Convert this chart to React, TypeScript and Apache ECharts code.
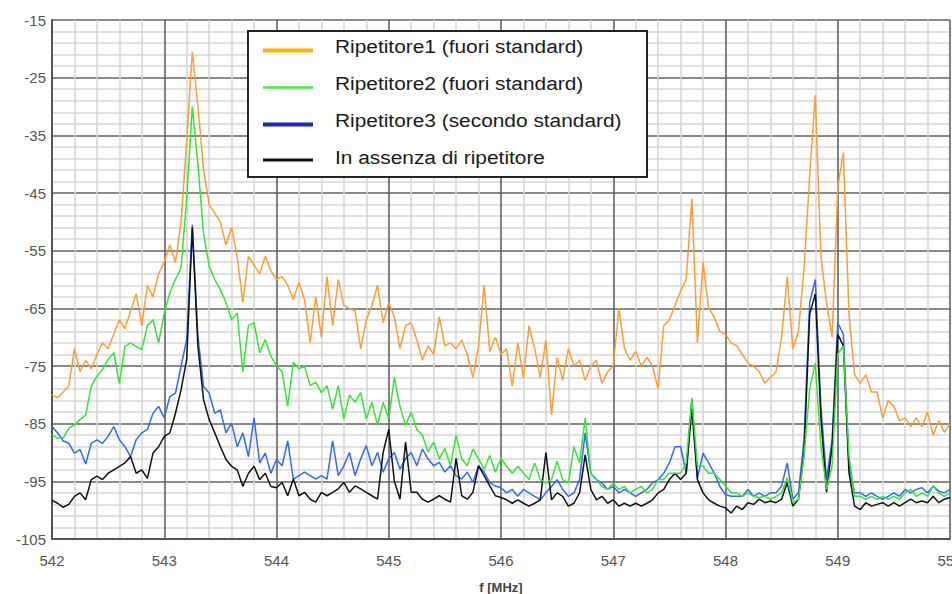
import React, { useEffect, useRef } from "react";
import * as echarts from "echarts";

// Frequency sweep (MHz)
const freq = [
  542, 542.05, 542.1, 542.15, 542.2, 542.25, 542.3, 542.35, 542.4, 542.45,
  542.5, 542.55, 542.6, 542.65, 542.7, 542.75, 542.8, 542.85, 542.9, 542.95,
  543, 543.05, 543.1, 543.15, 543.2, 543.25, 543.3, 543.35, 543.4, 543.45,
  543.5, 543.55, 543.6, 543.65, 543.7, 543.75, 543.8, 543.85, 543.9, 543.95,
  544, 544.05, 544.1, 544.15, 544.2, 544.25, 544.3, 544.35, 544.4, 544.45,
  544.5, 544.55, 544.6, 544.65, 544.7, 544.75, 544.8, 544.85, 544.9, 544.95,
  545, 545.05, 545.1, 545.15, 545.2, 545.25, 545.3, 545.35, 545.4, 545.45,
  545.5, 545.55, 545.6, 545.65, 545.7, 545.75, 545.8, 545.85, 545.9, 545.95,
  546, 546.05, 546.1, 546.15, 546.2, 546.25, 546.3, 546.35, 546.4, 546.45,
  546.5, 546.55, 546.6, 546.65, 546.7, 546.75, 546.8, 546.85, 546.9, 546.95,
  547, 547.05, 547.1, 547.15, 547.2, 547.25, 547.3, 547.35, 547.4, 547.45,
  547.5, 547.55, 547.6, 547.65, 547.7, 547.75, 547.8, 547.85, 547.9, 547.95,
  548, 548.05, 548.1, 548.15, 548.2, 548.25, 548.3, 548.35, 548.4, 548.45,
  548.5, 548.55, 548.6, 548.65, 548.7, 548.75, 548.8, 548.85, 548.9, 548.95,
  549, 549.05, 549.1, 549.15, 549.2, 549.25, 549.3, 549.35, 549.4, 549.45,
  549.5, 549.55, 549.6, 549.65, 549.7, 549.75, 549.8, 549.85, 549.9, 549.95,
  550,
];

// Ripetitore1 (fuori standard)
const rip1 = [
  -80, -80.5, -79.5, -78.5, -72, -76, -74, -75.5, -73, -71,
  -72, -69.5, -67, -68.5, -65.5, -62.5, -68, -61, -63, -59,
  -57, -54, -57, -50, -36, -20.5, -30, -41, -47, -48.5,
  -50, -54, -51, -56, -64, -56, -57.5, -59, -56, -58.5,
  -60, -59.5, -61, -63.5, -60.5, -63.5, -71, -63, -70, -59.5,
  -68, -60, -64.5, -65, -65.5, -72, -67, -64.5, -61, -67.5,
  -64, -66.5, -72, -68, -67.5, -70.5, -74, -71.5, -73, -66.5,
  -71.5, -71, -72, -70.5, -73, -77, -71.5, -61, -72.5, -70,
  -73, -72, -78.5, -71, -77, -68, -72, -77, -70.5, -83.5,
  -73.5, -77.5, -72, -75, -74, -77.5, -75, -74, -78, -76,
  -75, -65, -72, -74, -72.5, -75, -73.5, -75, -79, -68,
  -67, -64.5, -62, -60, -46, -71, -57, -65, -66.5, -69,
  -69.5, -71, -71.5, -73, -74.5, -75, -76, -78, -77, -76,
  -70, -59.5, -72, -69, -58, -42, -28, -56, -64, -70,
  -44, -38, -66, -76.5, -78, -76.5, -79.5, -79.5, -84, -81,
  -82, -84.5, -84, -85.5, -84, -85.5, -83, -87, -84.5, -86.5,
  -85,
];

// Ripetitore2 (fuori standard)
const rip2 = [
  -87, -87.5, -87.5, -85.8, -85.2, -84.3, -83.5, -78.5, -76.8, -75.6,
  -73.9, -72.7, -78, -71.6, -71, -71.6, -72.2, -68, -67, -71,
  -65.8, -62.3, -60, -58, -46, -30, -40, -52, -57.7, -60,
  -61.8, -64, -67, -65.8, -76, -68, -67.5, -72.7, -70.4, -73.3,
  -75, -76, -82, -74.4, -75.5, -75, -78.4, -77.8, -79.6, -78.4,
  -82.5, -78.4, -84.2, -80, -81.3, -79.6, -84.2, -81.3, -85.3, -81.3,
  -84.2, -77, -82, -85.3, -83, -86, -87, -89.9, -88.2, -91.1,
  -89.3, -92.3, -87, -91.1, -92.3, -89.4, -91.1, -92.9, -90.5, -93.4,
  -91, -92.4, -93.6, -92.4, -93.6, -94.7, -91.8, -94.7, -95.3, -94.7,
  -91.5, -94.7, -95.3, -89, -91.8, -84, -93.6, -94.7, -95.9, -96.4,
  -95.3, -96.4, -95.9, -97, -96.4, -95.9, -97, -96.4, -94.7, -94.7,
  -93.6, -93.6, -93.6, -91.8, -80.5, -92.4, -92.4, -93.6, -93.6, -94.7,
  -95.8, -97, -97, -97.6, -97, -97.6, -97.8, -97.6, -98.1, -97.6,
  -97, -94.4, -98.7, -98.1, -90.6, -79, -74.5, -89, -96.4, -92.3,
  -73, -71.5, -90.6, -97.6, -97.6, -98.1, -97.6, -98.1, -97.6, -98.1,
  -97.6, -98.1, -97, -96.4, -97.6, -97, -97.6, -95.8, -97, -97.6,
  -97,
];

// Ripetitore3 (secondo standard)
const rip3 = [
  -85.5, -86.6, -88, -88.4, -90.1, -89.5, -92, -88.4, -87.8, -88.4,
  -87.2, -85.5, -87.8, -89, -90.7, -87.8, -86.6, -86, -83.2, -82,
  -84, -80.3, -79.7, -75, -70.4, -50.5, -69.9, -78.5, -79.7, -83.2,
  -82.6, -86.6, -84.9, -89, -86.6, -90.7, -84, -91.8, -90.1, -93.6,
  -91.2, -92.3, -88, -94.6, -94, -93.4, -94, -94.6, -94, -94.6,
  -88, -94, -92.3, -90, -94, -91.1, -88.8, -92.3, -90, -93.4,
  -91.1, -90, -92.9, -91.1, -90, -92.3, -89.4, -91.1, -92.3, -91.7,
  -93.4, -92.3, -94, -94.6, -93.4, -95.2, -92.3, -93.4, -95.2, -95.8,
  -96.1, -97, -96.4, -97.6, -96.4, -97, -97.6, -98.2, -97, -95.9,
  -94.7, -96.4, -97.6, -97, -94.7, -86.6, -93.6, -94.7, -95.3, -96.4,
  -95.9, -97, -96.4, -97, -97.6, -97, -96.4, -95.3, -94.7, -93.6,
  -91.8, -89, -89, -93.6, -80.8, -94.5, -90.1, -91.8, -93.6, -95.9,
  -97.3, -97.6, -97.6, -97.6, -96.4, -97.6, -97, -97.6, -97, -97,
  -95.8, -91.8, -98.1, -97, -87.7, -64, -60, -82, -94.7, -87.7,
  -67.5, -69.5, -92.3, -97, -97, -97.6, -97, -97.6, -98.1, -97.6,
  -97, -97.6, -96.4, -97, -96.4, -96.1, -97, -95.8, -96.7, -97,
  -96.4,
];

// In assenza di ripetitore
const noRep = [
  -98.3, -98.8, -99.5, -99, -97.6, -97, -98.2, -94.7, -94.1, -94.7,
  -93.6, -93, -92.4, -91.8, -90.7, -93.6, -93, -94.5, -90.1, -89,
  -87.2, -86.6, -83.2, -79.1, -73.9, -51, -71.6, -80.8, -84.3, -86.6,
  -89, -91.2, -92.4, -93, -95.9, -93.6, -92.4, -94.7, -93.6, -95.9,
  -96.1, -95.2, -97.5, -94.6, -97.5, -96.9, -98.1, -98.6, -96.9, -97.5,
  -96.9, -96.3, -95.2, -96.9, -95.8, -96.3, -96.9, -97.5, -98.1, -90,
  -86, -95, -98.1, -88.2, -96.9, -96.9, -98.1, -98.6, -98.1, -97.5,
  -98.1, -98.6, -91, -97.5, -98.1, -96.9, -92.3, -94, -95.8, -97.5,
  -97.8, -98.2, -98.8, -98.2, -98.8, -99.3, -98.8, -98.2, -90, -98.2,
  -97, -97.6, -99.3, -98.8, -97, -90.4, -96.4, -98.2, -97.6, -98.8,
  -98.2, -99.3, -98.8, -99.3, -98.8, -99.3, -98.8, -98.2, -97, -96.4,
  -94.7, -93.6, -94.7, -93.6, -82.4, -94.7, -97, -98.2, -98.8, -99.3,
  -99.6, -100.5, -99.3, -99.9, -98.7, -99, -98.1, -98.7, -98.4, -98.7,
  -98.1, -95.2, -99.3, -98.1, -90, -66, -62.5, -84, -96.9, -88.9,
  -69.5, -71.5, -93.5, -99.3, -99.9, -98.7, -99.3, -99, -98.7, -99.3,
  -98.7, -99.3, -98.7, -98.1, -98.7, -98.4, -98.7, -97.6, -98.7, -98.1,
  -97.8,
];

const seriesNames = [
  "Ripetitore1 (fuori standard)",
  "Ripetitore2 (fuori standard)",
  "Ripetitore3 (secondo standard)",
  "In assenza di ripetitore",
];

// y-axis range (dB) and tick step
const yMin = -105;
const yMax = -15;
const yStep = 10;

export default function App() {
  const ref = useRef<HTMLDivElement>(null);

  useEffect(() => {
    if (!ref.current) return;
    const chart = echarts.init(ref.current, null, {
      renderer: "svg",
      width: 952,
      height: 594,
    });
    const pairs = (vals: number[]) => vals.map((v, i) => [freq[i], v]);

    const lineDefs = [
      { name: seriesNames[0], data: rip1, color: "#ff9c33" },
      { name: seriesNames[2], data: rip3, color: "#3366ff" },
      { name: seriesNames[3], data: noRep, color: "#111111" },
      { name: seriesNames[1], data: rip2, color: "#33e633" },
    ];

    const legendItems = [
      { text: seriesNames[0], color: "#ffb300", width: 4, ty: 47, ly: 50.5 },
      { text: seriesNames[1], color: "#44ee44", width: 2.5, ty: 84, ly: 87.5 },
      { text: seriesNames[2], color: "#2222cc", width: 4, ty: 121, ly: 124.5 },
      { text: seriesNames[3], color: "#111111", width: 3, ty: 157.5, ly: 160 },
    ];

    const graphic: any[] = [
      {
        type: "rect",
        z: 100,
        shape: { x: 248, y: 31, width: 399, height: 146 },
        style: { fill: "#ffffff", stroke: "#222222", lineWidth: 2 },
      },
    ];
    legendItems.forEach((it) => {
      graphic.push({
        type: "line",
        z: 101,
        shape: { x1: 263, y1: it.ly, x2: 313, y2: it.ly },
        style: { stroke: it.color, lineWidth: it.width },
      });
      graphic.push({
        type: "text",
        z: 101,
        x: 335,
        y: it.ty,
        scaleX: 1.16,
        style: {
          text: it.text,
          fontSize: 18,
          fontFamily: '"Liberation Sans", Arial, sans-serif',
          fill: "#1a1a1a",
          verticalAlign: "middle",
          align: "left",
        },
      });
    });

    chart.setOption({
      animation: false,
      backgroundColor: "#ffffff",
      grid: {
        left: 52,
        top: 20,
        right: 2,
        bottom: 55,
        containLabel: false,
        outerBoundsMode: "none",
      },
      xAxis: {
        type: "value",
        min: 542,
        max: 550,
        interval: 1,
        name: "f [MHz]",
        nameLocation: "middle",
        nameGap: 42,
        nameTextStyle: {
          fontSize: 13,
          fontWeight: "bold",
          color: "#444444",
          fontFamily: '"Liberation Sans", Arial, sans-serif',
        },
        axisLine: { show: true, lineStyle: { color: "#555555", width: 2 } },
        axisTick: { show: false },
        axisLabel: {
          fontSize: 15,
          color: "#555555",
          margin: 14,
          fontFamily: '"Liberation Sans", Arial, sans-serif',
        },
        splitLine: { show: true, lineStyle: { color: "#626262", width: 1.6 } },
        minorTick: { show: false, splitNumber: 5 },
        minorSplitLine: { show: true, lineStyle: { color: "#d6d6d6", width: 1.5 } },
      },
      yAxis: [
        {
          type: "value",
          min: yMin,
          max: yMax,
          show: false,
          splitLine: { show: false },
        },
        {
          // tick helper: same span, counted from the bottom value
          type: "value",
          min: 0,
          max: yMax - yMin,
          interval: yStep,
          position: "left",
          axisLine: { show: true, lineStyle: { color: "#555555", width: 2 } },
          axisTick: { show: false },
          axisLabel: {
            fontSize: 15,
            color: "#555555",
            margin: 6,
            fontFamily: '"Liberation Sans", Arial, sans-serif',
            formatter: (v: number) => String(Math.round(v + yMin)),
          },
          splitLine: { show: true, lineStyle: { color: "#626262", width: 1.6 } },
          minorTick: { show: false, splitNumber: 5 },
          minorSplitLine: { show: true, lineStyle: { color: "#d6d6d6", width: 1.5 } },
        },
      ],
      series: lineDefs.map((d) => ({
        name: d.name,
        type: "line",
        yAxisIndex: 0,
        data: pairs(d.data),
        showSymbol: false,
        symbol: "none",
        lineStyle: { color: d.color, width: 1.5 },
        itemStyle: { color: d.color },
        emphasis: { disabled: true },
      })),
      graphic,
    });

    return () => chart.dispose();
  }, []);

  return (
    <div
      ref={ref}
      style={{
        position: "fixed",
        left: 0,
        top: 0,
        width: 952,
        height: 594,
        background: "#ffffff",
      }}
    />
  );
}
